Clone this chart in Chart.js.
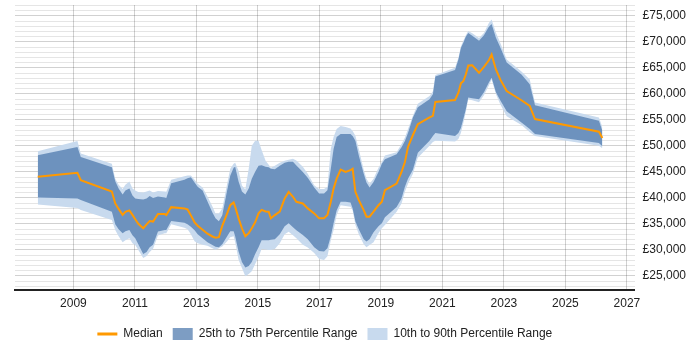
<!DOCTYPE html>
<html lang="en">
<head>
    <meta charset="UTF-8">
    <title>Salary percentiles</title>
    <script src="https://cdn.jsdelivr.net/npm/chart.js"></script>
    <style>
        body { margin: 0; background: #fff; }
        #wrap { width: 700px; height: 350px; }
    </style>
</head>
<body>
    <div id="wrap"><canvas id="salaryChart"></canvas></div>

    <script>
        // Time points (decimal years)
        const dates = [2007.84, 2009.13, 2009.24, 2010.25, 2010.36, 2010.47, 2010.60, 2010.69, 2010.82, 2010.92,
            2011.01, 2011.11, 2011.27, 2011.38, 2011.48, 2011.59, 2011.75, 2011.97, 2012.02, 2012.18,
            2012.61, 2012.71, 2012.82, 2012.94, 2013.04, 2013.20, 2013.36, 2013.52, 2013.62, 2013.73,
            2013.84, 2014.00, 2014.10, 2014.21, 2014.26, 2014.37, 2014.48, 2014.59, 2014.70, 2014.80,
            2014.91, 2015.02, 2015.12, 2015.25, 2015.35, 2015.42, 2015.55, 2015.71, 2015.87, 2016.00,
            2016.14, 2016.25, 2016.46, 2016.62, 2016.83, 2016.99, 2017.15, 2017.26, 2017.37, 2017.46,
            2017.56, 2017.69, 2017.85, 2018.01, 2018.08, 2018.17, 2018.28, 2018.44, 2018.53, 2018.63,
            2018.76, 2018.92, 2019.03, 2019.13, 2019.51, 2019.67, 2019.78, 2019.88, 2020.04, 2020.20,
            2020.58, 2020.69, 2020.77, 2021.41, 2021.52, 2021.60, 2021.68, 2021.76, 2021.84, 2021.97,
            2022.19, 2022.35, 2022.51, 2022.60, 2022.74, 2022.88, 2023.09, 2023.57, 2023.84, 2024.01,
            2026.09, 2026.20];

        const p10 = [38750, 38080, 37700, 35750, 33850, 32640, 31500, 31880, 32260, 31310,
            30930, 29970, 28450, 28830, 29590, 30220, 32780, 33220, 33220, 34930,
            34260, 33980, 33020, 31690, 31310, 31020, 30830, 30350, 30030, 30350,
            30680, 31690, 32450, 32640, 31500, 28120, 26540, 24950, 25390, 25910,
            27300, 28640, 30160, 30070, 29970, 29970, 30160, 31310, 33020, 33500,
            32830, 32260, 30980, 30450, 29400, 28250, 28060, 28770, 31880, 33790,
            36650, 38610, 38460, 38310, 37600, 34800, 33020, 31120, 30540, 30930,
            31500, 33220, 34170, 34800, 37360, 38940, 41170, 42750, 44660, 47720,
            50060, 50770, 51020, 50830, 51340, 52480, 54390, 56490, 58970, 58780,
            58400, 59740, 61640, 62790, 59930, 58020, 55730, 54010, 52620, 51910,
            50060, 49560];

        const p25 = [40080, 39890, 39610, 37360, 34930, 33980, 33220, 33600, 33850, 32830,
            32260, 31120, 29210, 29590, 30540, 30980, 33540, 33850, 33850, 35560,
            35220, 34930, 34460, 33790, 33020, 32260, 31500, 30930, 30640, 30540,
            31120, 32640, 33600, 33600, 32640, 29720, 27680, 26630, 26920, 27680,
            29210, 30540, 31880, 31880, 31880, 31940, 32070, 33020, 34550, 35120,
            34360, 33790, 32890, 32070, 30540, 29780, 29680, 30350, 32640, 35120,
            37600, 39260, 39260, 39130, 37990, 35450, 33980, 32070, 31630, 32070,
            33410, 34550, 35120, 36270, 38270, 39890, 42130, 43710, 45430, 48670,
            51020, 51910, 52480, 51910, 52480, 53440, 55160, 57060, 59300, 59160,
            58970, 60310, 62220, 63110, 60310, 58780, 56680, 54530, 53250, 52290,
            50580, 49950];

        const median = [44090, 44850, 43420, 41230, 38940, 37890, 36750, 37320, 37600, 36750,
            35890, 35030, 34170, 34930, 35560, 35450, 36900, 36900, 36710, 38230,
            37990, 37790, 36650, 35310, 34650, 33880, 33120, 32590, 32360, 32450,
            34650, 37030, 38610, 39130, 38310, 36080, 34170, 32640, 33220, 34170,
            35310, 37030, 37700, 37410, 37360, 36080, 36710, 37360, 39890, 41170,
            40220, 39260, 38940, 37990, 37030, 36080, 36080, 36710, 39260, 41800,
            43710, 45430, 44990, 45330, 45620, 41170, 39570, 37660, 36400, 36400,
            37360, 38610, 39260, 41480, 42760, 44990, 46900, 49810, 52100, 54200,
            55480, 55790, 58460, 58840, 60250, 62030, 62460, 63740, 65460, 65520,
            64070, 65210, 66470, 67560, 64700, 62790, 60560, 58780, 57690, 55160,
            52730, 51530];

        const p75 = [48190, 49810, 47850, 45900, 43190, 41800, 40660, 41420, 41800, 40470,
            39890, 39800, 39700, 39890, 40370, 39990, 40270, 40080, 39990, 42850,
            43520, 43800, 44000, 42950, 42130, 41420, 39320, 37220, 36080, 35500,
            36650, 41480, 44280, 45810, 46000, 43140, 41230, 40660, 41800, 43710,
            45040, 46190, 46280, 46000, 45900, 45620, 45520, 46190, 46760, 46950,
            46950, 46250, 44990, 43900, 41990, 40850, 40850, 41480, 45620, 49430,
            51720, 52290, 52290, 52290, 51910, 51020, 48160, 44660, 42950, 41990,
            43080, 44990, 46570, 47430, 48380, 49760, 50960, 52480, 55480, 57440,
            58970, 59930, 63360, 64600, 66600, 68840, 69850, 70990, 71700, 71180,
            70230, 71280, 72900, 73470, 70800, 68990, 66030, 63740, 61840, 57830,
            54830, 52920];

        const p90 = [48960, 50960, 48570, 46570, 43710, 42560, 41710, 42560, 43140, 41800,
            41420, 41130, 41040, 41230, 41420, 41040, 41320, 41230, 41170, 43520,
            44190, 44340, 44340, 43520, 42750, 41990, 40270, 38370, 37030, 37030,
            37990, 42750, 45620, 46570, 46760, 45240, 42370, 41610, 45620, 50060,
            51020, 51020, 49240, 47140, 46380, 45810, 46190, 46760, 47140, 47330,
            47520, 47200, 46000, 44660, 42430, 41710, 41710, 42130, 49430, 51720,
            53250, 53820, 53630, 53340, 52870, 51970, 49430, 45430, 43710, 42750,
            43710, 45810, 46900, 48160, 48800, 50390, 51630, 53250, 55790, 58110,
            59600, 60500, 63650, 65020, 66980, 69140, 70230, 71280, 72080, 71660,
            70740, 71700, 73660, 74330, 71760, 69850, 66600, 64310, 62790, 58340,
            55480, 53630];

        // Axis ticks
        const yearTicks = [2009, 2011, 2013, 2015, 2017, 2019, 2021, 2023, 2025, 2027];
        const salaryTicks = [25000, 30000, 35000, 40000, 45000, 50000, 55000, 60000, 65000, 70000, 75000];

        const toPoints = arr => arr.map((v, i) => ({ x: dates[i], y: v }));

        Chart.defaults.font.family = '"Liberation Sans", Arial, sans-serif';
        Chart.defaults.font.size = 12;
        Chart.defaults.color = '#333';

        const legendShown = [0, 1, 3];

        const ctx = document.getElementById('salaryChart').getContext('2d');
        const chart = new Chart(ctx, {
            type: 'line',
            data: {
                datasets: [{
                    label: 'Median',
                    data: toPoints(median),
                    borderColor: '#ff9900',
                    backgroundColor: '#ff9900',
                    borderWidth: 2,
                    fill: false,
                    pointStyle: 'line'
                }, {
                    label: '25th to 75th Percentile Range',
                    data: toPoints(p75),
                    borderColor: 'transparent',
                    borderWidth: 0,
                    backgroundColor: 'rgba(70, 115, 170, 0.7)',
                    fill: '+1',
                    pointStyle: 'rect'
                }, {
                    label: 'p25',
                    data: toPoints(p25),
                    borderColor: 'transparent',
                    borderWidth: 0,
                    fill: false
                }, {
                    label: '10th to 90th Percentile Range',
                    data: toPoints(p90),
                    borderColor: 'transparent',
                    borderWidth: 0,
                    backgroundColor: '#c8daee',
                    fill: '+1',
                    pointStyle: 'rect'
                }, {
                    label: 'p10',
                    data: toPoints(p10),
                    borderColor: 'transparent',
                    borderWidth: 0,
                    fill: false
                }]
            },
            options: {
                responsive: true,
                maintainAspectRatio: false,
                animation: false,
                elements: {
                    point: { radius: 0, hoverRadius: 0 },
                    line: { tension: 0 }
                },
                layout: {
                    padding: { left: 15, right: 6, top: 5, bottom: 0 }
                },
                scales: {
                    x: {
                        type: 'linear',
                        min: 2007.1,
                        max: 2027.25,
                        afterBuildTicks: axis => {
                            axis.ticks = yearTicks.map(v => ({ value: v }));
                        },
                        afterFit: axis => {
                            axis.paddingLeft = 0;
                            axis.paddingRight = 0;
                        },
                        ticks: {
                            padding: 2,
                            autoSkip: false,
                            font: { size: 12, lineHeight: 2 },
                            color: '#222',
                            maxRotation: 0,
                            callback: v => String(v)
                        },
                        grid: {
                            color: 'rgba(0, 0, 0, 0.18)',
                            drawTicks: false
                        },
                        border: { display: true, color: '#222', width: 2 }
                    },
                    y: {
                        position: 'right',
                        min: 22300,
                        max: 77100,
                        afterBuildTicks: axis => {
                            // major lines every 5,000, light minor lines every 1,000
                            const ticks = [];
                            for (let v = 23000; v <= 77000; v += 1000) ticks.push({ value: v });
                            axis.ticks = ticks;
                        },
                        afterFit: axis => {
                            axis.paddingTop = 0;
                            axis.paddingBottom = 0;
                        },
                        ticks: {
                            padding: 8,
                            autoSkip: false,
                            color: '#222',
                            callback: v => salaryTicks.includes(v) ? '£' + v.toLocaleString('en-GB') : ''
                        },
                        grid: {
                            drawTicks: false,
                            color: c => (c.tick && c.tick.value % 5000 === 0) ? 'rgba(0, 0, 0, 0.18)' : 'rgba(0, 0, 0, 0.1)'
                        },
                        border: { display: false }
                    }
                },
                plugins: {
                    tooltip: { enabled: false },
                    legend: {
                        position: 'bottom',
                        fullSize: false,
                        labels: {
                            usePointStyle: true,
                            pointStyleWidth: 20,
                            boxHeight: 12,
                            padding: 10,
                            color: '#222',
                            generateLabels: c => {
                                const items = Chart.defaults.plugins.legend.labels.generateLabels(c);
                                return items.filter(it => legendShown.includes(it.datasetIndex)).map(it => {
                                    if (it.datasetIndex === 0) {
                                        it.lineWidth = 3;
                                        it.strokeStyle = '#ff9900';
                                    }
                                    return it;
                                });
                            }
                        }
                    }
                }
            }
        });
    </script>
</body>
</html>
